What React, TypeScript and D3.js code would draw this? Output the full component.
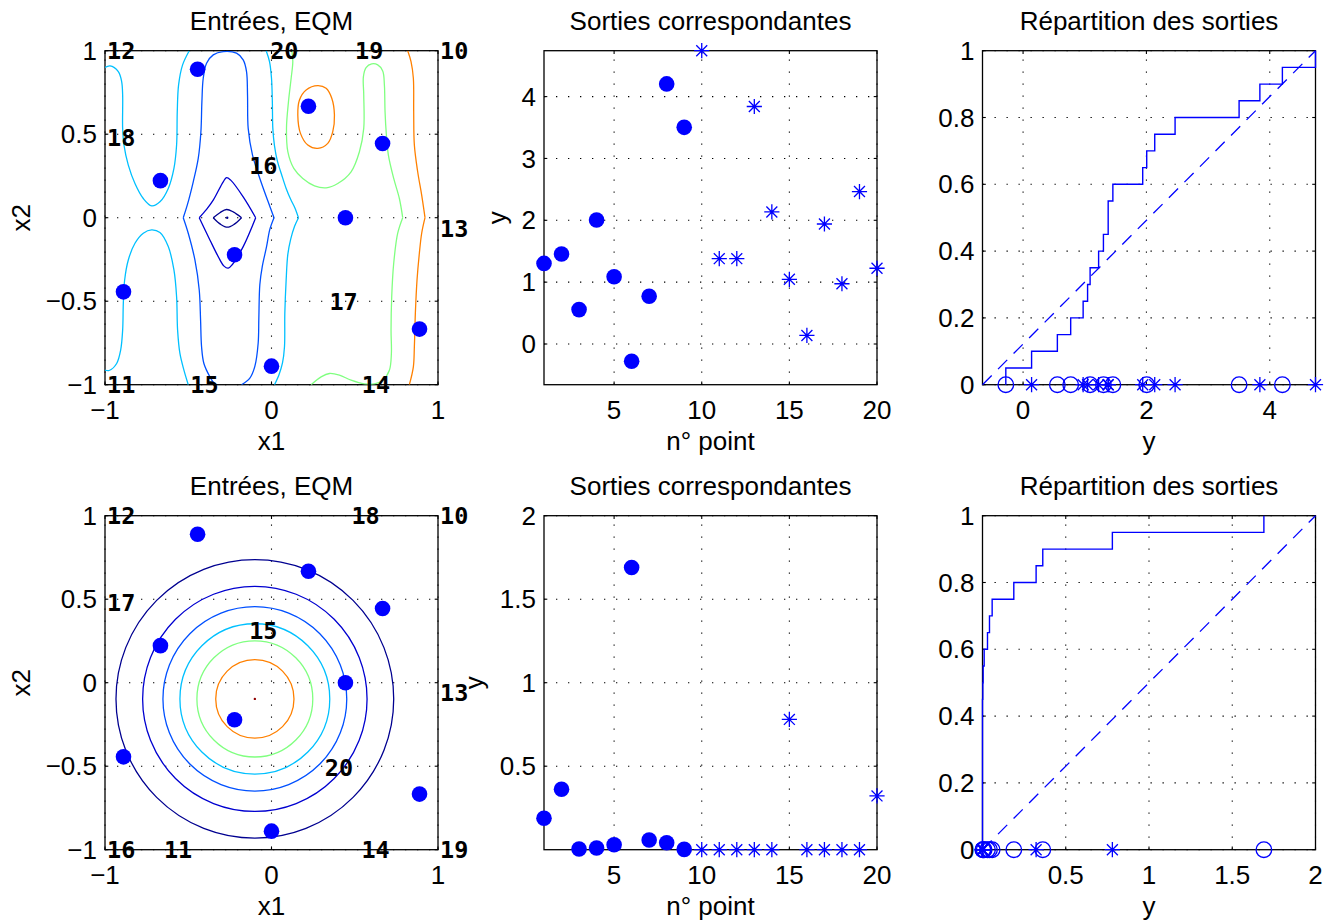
import React from "react";
import * as d3 from "d3";

type P = [number, number];

// ---- design inputs: points 1..9 (x1, x2) ----
const inputX1 = [-0.444, 0.222, 0.667, -0.667, 0.444, -0.222, -0.889, 0.889, 0.0];
const inputX2 = [0.889, 0.667, 0.444, 0.222, 0.0, -0.222, -0.444, -0.667, -0.889];

// ---- outputs of the 20 points (1..9 design, 10..20 test) ----
const outputsTop = [
  1.303, 1.456, 0.556, 2.005, 1.087, -0.28, 0.772, 4.205, 3.503,
  4.742, 1.38, 1.38, 3.84, 2.135, 1.046, 0.138, 1.94, 0.974, 2.465, 1.225,
];
const outputsBottom = [
  0.188, 0.362, 0.004, 0.01, 0.03, 1.69, 0.058, 0.042, 0.002,
  0, 0, 0, 0, 0, 0.78, 0, 0, 0, 0, 0.322,
];
const nDesign = 9;
const outRangeTop: P = [-0.658, 4.742];
const outRangeBottom: P = [0.00001, 2];

// ---- test point numbers written on the input plane ----
const testLabelsTop = ["12", "20", "19", "10", "18", "16", "13", "17", "11", "15", "14"];
const testX1Top = [-1, -0.02, 0.49, 1, -1, -0.146, 1, 0.336, -1, -0.5, 0.53];
const testX2Top = [1, 1, 1, 1, 0.48, 0.31, -0.063, -0.505, -1, -1, -1];
const testLabelsBottom = ["12", "18", "10", "17", "15", "13", "20", "16", "11", "14", "19"];
const testX1Bottom = [-1, 0.468, 1, -1, -0.146, 1, 0.308, -1, -0.658, 0.528, 1];
const testX2Bottom = [1, 1, 1, 0.48, 0.31, -0.06, -0.509, -1, -1, -1, -1];

// ---- MSE iso-lines, top model (level index, traced pieces) ----
const levelColors = ["#000090", "#0000d0", "#0050ff", "#00c0ff", "#80ff80", "#ff8000"];

const mseTopPieces: { level: number; closed?: boolean; pts: P[] }[] = [
  // level 1 : small eye around the minimum
  { level: 0, pts: [[-0.35, 0], [-0.31, 0.03], [-0.27, 0.049], [-0.23, 0.035], [-0.18, 0]] },
  { level: 0, pts: [[-0.35, 0], [-0.305, -0.04], [-0.265, -0.057], [-0.225, -0.04], [-0.18, 0]] },
  // level 2 : diamond
  { level: 1, pts: [[-0.434, 0], [-0.39, 0.05], [-0.35, 0.105], [-0.29, 0.215], [-0.27, 0.24], [-0.245, 0.225], [-0.17, 0.125], [-0.095, 0]] },
  { level: 1, pts: [[-0.434, 0], [-0.37, -0.133], [-0.32, -0.233], [-0.285, -0.29], [-0.26, -0.302], [-0.235, -0.28], [-0.17, -0.173], [-0.095, 0]] },
  // level 3 : large loop open at the bottom
  { level: 2, pts: [[-0.53, 0], [-0.506, 0.075], [-0.47, 0.215], [-0.44, 0.355], [-0.424, 0.515], [-0.418, 0.695], [-0.41, 0.835], [-0.39, 0.925], [-0.35, 0.975], [-0.29, 0.995], [-0.21, 0.985], [-0.17, 0.945], [-0.15, 0.875], [-0.144, 0.735], [-0.14, 0.535], [-0.114, 0.375], [-0.07, 0.235], [-0.02, 0.095], [0.015, 0]] },
  { level: 2, pts: [[-0.53, 0], [-0.5, -0.093], [-0.46, -0.253], [-0.434, -0.433], [-0.426, -0.613], [-0.42, -0.773], [-0.406, -0.873], [-0.37, -0.953], [-0.34, -1.0]] },
  { level: 2, pts: [[0.015, 0], [-0.01, -0.07], [-0.03, -0.175], [-0.055, -0.29], [-0.07, -0.4], [-0.076, -0.6], [-0.08, -0.75], [-0.1, -0.89], [-0.13, -0.96], [-0.18, -1.0]] },
  // level 4
  { level: 3, pts: [[-1, 0.899], [-0.97, 0.909], [-0.92, 0.875], [-0.9, 0.815], [-0.894, 0.735], [-0.894, 0.535], [-0.886, 0.435], [-0.86, 0.315], [-0.82, 0.205], [-0.77, 0.115], [-0.72, 0.071], [-0.67, 0.095], [-0.62, 0.175], [-0.586, 0.295], [-0.57, 0.435], [-0.566, 0.635], [-0.558, 0.795], [-0.534, 0.915], [-0.494, 1.0]] },
  { level: 3, pts: [[-1, -0.913], [-0.975, -0.915], [-0.93, -0.873], [-0.906, -0.793], [-0.894, -0.673], [-0.89, -0.513], [-0.882, -0.373], [-0.86, -0.253], [-0.82, -0.153], [-0.77, -0.093], [-0.72, -0.073], [-0.67, -0.089], [-0.62, -0.173], [-0.586, -0.313], [-0.57, -0.473], [-0.564, -0.673], [-0.55, -0.813], [-0.526, -0.913], [-0.5, -1.0]] },
  { level: 3, pts: [[-0.032, 1.0], [-0.012, 0.935], [0.0, 0.835], [0.005, 0.7], [0.008, 0.535], [0.018, 0.43], [0.035, 0.34], [0.06, 0.26], [0.088, 0.175], [0.115, 0.11], [0.14, 0.06], [0.162, 0]] },
  { level: 3, pts: [[0.162, 0], [0.138, -0.053], [0.115, -0.13], [0.098, -0.22], [0.088, -0.373], [0.08, -0.573], [0.078, -0.773], [0.066, -0.87], [0.045, -0.94], [0.018, -1.0]] },
  // level 5
  { level: 4, pts: [[0.122, 1.0], [0.128, 0.935], [0.118, 0.835], [0.102, 0.695], [0.09, 0.535], [0.098, 0.395], [0.134, 0.295], [0.188, 0.235], [0.258, 0.191], [0.328, 0.179], [0.398, 0.205], [0.478, 0.275], [0.528, 0.395], [0.554, 0.535], [0.554, 0.735], [0.552, 0.845], [0.568, 0.899], [0.602, 0.921], [0.638, 0.915], [0.668, 0.879], [0.678, 0.795], [0.682, 0.635], [0.69, 0.495], [0.702, 0.375], [0.734, 0.235], [0.768, 0.115], [0.788, 0]] },
  { level: 4, pts: [[0.788, 0], [0.758, -0.093], [0.734, -0.273], [0.722, -0.473], [0.718, -0.673], [0.72, -0.813], [0.708, -0.913], [0.668, -0.973], [0.618, -0.995], [0.558, -0.995], [0.478, -0.973], [0.408, -0.943], [0.348, -0.933], [0.298, -0.953], [0.238, -1.0]] },
  // level 6
  { level: 5, closed: true, pts: [[0.278, 0.791], [0.328, 0.775], [0.362, 0.715], [0.378, 0.615], [0.368, 0.515], [0.338, 0.445], [0.278, 0.415], [0.218, 0.435], [0.174, 0.505], [0.158, 0.615], [0.168, 0.705], [0.208, 0.765]] },
  { level: 5, pts: [[0.818, 1.0], [0.838, 0.935], [0.852, 0.835], [0.854, 0.635], [0.858, 0.435], [0.878, 0.275], [0.902, 0.135], [0.922, 0]] },
  { level: 5, pts: [[0.922, 0], [0.902, -0.093], [0.888, -0.213], [0.874, -0.373], [0.864, -0.573], [0.858, -0.773], [0.852, -0.893], [0.828, -1.0]] },
];
const mseTopMinimum: P = [-0.266, 0];

// ---- MSE iso-lines, bottom model: concentric rings ----
const ringCenter: P = [-0.1, -0.097];
const ringRadii = [0.834, 0.674, 0.552, 0.45, 0.348, 0.235];
const ringLevels = [0, 1, 2, 3, 4, 5];

// ---- tick values ----
const unitTicks = [-1, 0, 1];
const halfTicks = [-1, -0.5, 0, 0.5, 1];
const pointTicks = [5, 10, 15, 20];
const outTicksTop = [0, 1, 2, 3, 4];
const outTicksBottom = [0.5, 1, 1.5, 2];
const cdfXTicksTop = [0, 2, 4];
const cdfXTicksBottom = [0.5, 1, 1.5, 2];
const probTicks = [0, 0.2, 0.4, 0.6, 0.8, 1];

// ---- layout ----
const FONT = '"Liberation Sans", Arial, Helvetica, sans-serif';
const MONO = '"DejaVu Sans Mono", "Liberation Mono", monospace';
const FS = 26;
const BLUE = "#0000ff";
const PW = 333;
const PH = 334;
const colLeft = [105, 544, 982.5];
const rowTop = [50.7, 515.7];

const fmt = (v: number) => String(Math.round(v * 100) / 100).replace("-", "\u2212");

type Lin = d3.ScaleLinear<number, number>;

function Frame(props: {
  x: Lin; y: Lin; xTicks: number[]; yTicks: number[];
  title: string; xLabel: string; yLabel?: string; yLabelGap?: number;
  children?: React.ReactNode;
}) {
  const { x, y, xTicks, yTicks, title, xLabel, yLabel, yLabelGap, children } = props;
  const [l, r] = x.range();
  const [b, t] = y.range();
  const tl = 3.3;
  const dash = "1.3 10.7";
  return (
    <g>
      {xTicks.map((v) => (
        <line key={"gx" + v} x1={x(v)} x2={x(v)} y1={b} y2={t} stroke="#000" strokeWidth={1.1} strokeDasharray={dash} />
      ))}
      {yTicks.map((v) => (
        <line key={"gy" + v} x1={l} x2={r} y1={y(v)} y2={y(v)} stroke="#000" strokeWidth={1.1} strokeDasharray={dash} />
      ))}
      <rect x={l} y={t} width={r - l} height={b - t} fill="none" stroke="#000" strokeWidth={1.3} />
      {xTicks.map((v) => (
        <g key={"tx" + v}>
          <line x1={x(v)} x2={x(v)} y1={b} y2={b - tl} stroke="#000" strokeWidth={1.1} />
          <line x1={x(v)} x2={x(v)} y1={t} y2={t + tl} stroke="#000" strokeWidth={1.1} />
          <text x={x(v)} y={b + 34} textAnchor="middle" fontFamily={FONT} fontSize={FS}>{fmt(v)}</text>
        </g>
      ))}
      {yTicks.map((v) => (
        <g key={"ty" + v}>
          <line x1={l} x2={l + tl} y1={y(v)} y2={y(v)} stroke="#000" strokeWidth={1.1} />
          <line x1={r} x2={r - tl} y1={y(v)} y2={y(v)} stroke="#000" strokeWidth={1.1} />
          <text x={l - 8} y={y(v)} dy="0.35em" textAnchor="end" fontFamily={FONT} fontSize={FS}>{fmt(v)}</text>
        </g>
      ))}
      <text x={(l + r) / 2} y={t - 21} textAnchor="middle" fontFamily={FONT} fontSize={FS}>{title}</text>
      <text x={(l + r) / 2} y={b + 65} textAnchor="middle" fontFamily={FONT} fontSize={FS}>{xLabel}</text>
      {yLabel && (
        <text transform={`translate(${l - (yLabelGap || 0)},${(t + b) / 2}) rotate(-90)`} textAnchor="middle" fontFamily={FONT} fontSize={FS}>
          {yLabel}
        </text>
      )}
      {children}
    </g>
  );
}

const starPath = (s: number) => {
  const d = s * 0.72;
  return `M${-s},0H${s}M0,${-s}V${s}M${-d},${-d}L${d},${d}M${-d},${d}L${d},${-d}`;
};

function InputPanel(props: { row: number; labels: string[]; lx: number[]; ly: number[]; top: boolean }) {
  const { row, labels, lx, ly, top } = props;
  const L = colLeft[0];
  const T = rowTop[row];
  const x = d3.scaleLinear().domain([-1, 1]).range([L, L + PW]);
  const y = d3.scaleLinear().domain([-1, 1]).range([T + PH, T]);
  const line = d3.line<P>().x((d) => x(d[0])).y((d) => y(d[1])).curve(d3.curveCatmullRom.alpha(0.5));
  const loop = d3.line<P>().x((d) => x(d[0])).y((d) => y(d[1])).curve(d3.curveCatmullRomClosed.alpha(0.5));
  const clipId = "clip-in-" + row;
  return (
    <Frame x={x} y={y} xTicks={unitTicks} yTicks={halfTicks} title="Entrées, EQM" xLabel="x1" yLabel="x2" yLabelGap={75}>
      <defs>
        <clipPath id={clipId}>
          <rect x={L} y={T} width={PW} height={PH} />
        </clipPath>
      </defs>
      <g clipPath={`url(#${clipId})`} fill="none" strokeWidth={1.3}>
        {top
          ? mseTopPieces.map((p, i) => (
              <path key={i} d={(p.closed ? loop : line)(p.pts) || ""} stroke={levelColors[p.level]} />
            ))
          : ringRadii.map((r, i) => (
              <ellipse
                key={i}
                cx={x(ringCenter[0])}
                cy={y(ringCenter[1])}
                rx={x(ringCenter[0] + r) - x(ringCenter[0])}
                ry={y(ringCenter[1]) - y(ringCenter[1] + r)}
                stroke={levelColors[ringLevels[i]]}
              />
            ))}
      </g>
      {top ? (
        <circle cx={x(mseTopMinimum[0])} cy={y(mseTopMinimum[1])} r={1.2} fill={levelColors[0]} />
      ) : (
        <circle cx={x(ringCenter[0])} cy={y(ringCenter[1])} r={1.2} fill="#900000" />
      )}
      {inputX1.map((v, i) => (
        <circle key={"p" + i} cx={x(v)} cy={y(inputX2[i])} r={7.8} fill={BLUE} />
      ))}
      {labels.map((s, i) => (
        <text key={"l" + i} x={x(lx[i]) + 2} y={y(ly[i])} dy="0.36em" fontFamily={MONO} fontWeight="bold" fontSize={23.5} fill="#000">
          {s}
        </text>
      ))}
    </Frame>
  );
}

function OutputPanel(props: { row: number; out: number[]; range: P; ticks: number[]; gap: number }) {
  const { row, out, range, ticks, gap } = props;
  const L = colLeft[1];
  const T = rowTop[row];
  const x = d3.scaleLinear().domain([1, 20]).range([L, L + PW]);
  const y = d3.scaleLinear().domain(range).range([T + PH, T]);
  return (
    <Frame x={x} y={y} xTicks={pointTicks} yTicks={ticks} title="Sorties correspondantes" xLabel="n° point" yLabel="y" yLabelGap={gap}>
      {out.map((v, i) =>
        i < nDesign ? (
          <circle key={i} cx={x(i + 1)} cy={y(v)} r={7.8} fill={BLUE} />
        ) : (
          <path key={i} transform={`translate(${x(i + 1)},${y(v)})`} d={starPath(7.6)} stroke={BLUE} strokeWidth={1.3} fill="none" />
        )
      )}
    </Frame>
  );
}

function CdfPanel(props: { row: number; out: number[]; range: P; ticks: number[] }) {
  const { row, out, range, ticks } = props;
  const L = colLeft[2];
  const T = rowTop[row];
  const x = d3.scaleLinear().domain(range).range([L, L + PW]);
  const y = d3.scaleLinear().domain([0, 1]).range([T + PH, T]);
  const n = out.length;
  const sorted = out.slice().sort(d3.ascending);
  const stairs: P[] = sorted.flatMap((v, i) => [[v, i / n], [v, (i + 1) / n]] as P[]);
  const line = d3.line<P>().x((d) => x(d[0])).y((d) => y(d[1]));
  const uniform: P[] = [[range[0], 0], [range[1], 1]];
  return (
    <Frame x={x} y={y} xTicks={ticks} yTicks={probTicks} title="Répartition des sorties" xLabel="y">
      <path d={line(uniform) || ""} stroke={BLUE} strokeWidth={1.3} strokeDasharray="13 9" fill="none" />
      <path d={line(stairs) || ""} stroke={BLUE} strokeWidth={1.4} fill="none" />
      {out.map((v, i) =>
        i < nDesign ? (
          <circle key={i} cx={x(v)} cy={y(0)} r={7.8} fill="none" stroke={BLUE} strokeWidth={1.3} />
        ) : (
          <path key={i} transform={`translate(${x(v)},${y(0)})`} d={starPath(7.6)} stroke={BLUE} strokeWidth={1.3} fill="none" />
        )
      )}
    </Frame>
  );
}

export default function App() {
  return (
    <div style={{ position: "absolute", left: 0, top: 0 }}>
      <svg width={1334} height={921} style={{ display: "block", background: "#fff" }}>
        <InputPanel row={0} labels={testLabelsTop} lx={testX1Top} ly={testX2Top} top={true} />
        <OutputPanel row={0} out={outputsTop} range={outRangeTop} ticks={outTicksTop} gap={38.5} />
        <CdfPanel row={0} out={outputsTop} range={outRangeTop} ticks={cdfXTicksTop} />
        <InputPanel row={1} labels={testLabelsBottom} lx={testX1Bottom} ly={testX2Bottom} top={false} />
        <OutputPanel row={1} out={outputsBottom} range={outRangeBottom} ticks={outTicksBottom} gap={61} />
        <CdfPanel row={1} out={outputsBottom} range={outRangeBottom} ticks={cdfXTicksBottom} />
      </svg>
    </div>
  );
}
